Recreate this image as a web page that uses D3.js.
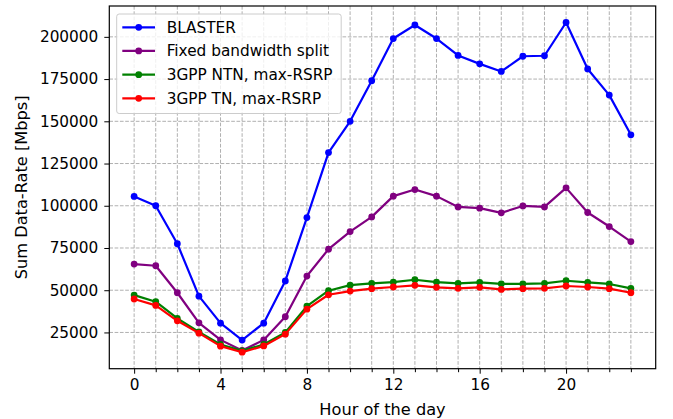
<!DOCTYPE html>
<html>
<head>
<meta charset="utf-8">
<script src="https://cdn.jsdelivr.net/npm/d3@7"></script>
<style>
	body { margin: 0; background: #fff; }
	text { font-family: "DejaVu Sans", sans-serif; fill: #000; }
</style>
</head>
<body>
<script>
// hours of the day
var hours = d3.range(0, 24);

var blaster = [105500, 100000, 77500, 46500, 30500, 20500, 30500, 55500, 93000, 131500, 150000, 174000,
				199000, 207000, 199000, 189000, 184000, 179500, 188500, 188800, 208500, 181000, 165500, 142000];
var fixedSplit = [65500, 64500, 48500, 30700, 20600, 14300, 20600, 34300, 58400, 74300, 84700, 93400,
				105700, 109600, 105700, 99300, 98600, 95800, 99900, 99300, 110600, 96000, 87700, 78800];
var ntnRsrp = [47100, 43200, 33300, 25300, 17900, 14100, 17900, 25000, 40600, 49700, 53000, 54100,
				54800, 56200, 54800, 54100, 54700, 53800, 53800, 54100, 55600, 54700, 53700, 51100];
var tnRsrp = [44800, 41000, 31900, 24600, 16900, 13300, 17000, 24000, 38800, 47300, 49500, 50900,
				51900, 52900, 51700, 51100, 51700, 50500, 50900, 51100, 52500, 51900, 50900, 48500];

var seriesNames = ["BLASTER", "Fixed bandwidth split", "3GPP NTN, max-RSRP", "3GPP TN, max-RSRP"];
var seriesColors = ["#0000ff", "#800080", "#008000", "#ff0000"];
var seriesValues = [blaster, fixedSplit, ntnRsrp, tnRsrp];

var xMajorTicks = [0, 4, 8, 12, 16, 20];
var yTicks = [25000, 50000, 75000, 100000, 125000, 150000, 175000, 200000];

var WIDTH = 673;
var HEIGHT = 419;
var plotL = 109.3, plotR = 655.7, plotT = 6, plotB = 368.7;
var FONT = 15.3;
var LABEL_FONT = 16.2;

var svg = d3.select("body")
			.append("svg")
			.attr("width", WIDTH)
			.attr("height", HEIGHT);

var allVals = d3.merge(seriesValues);
var yMin = d3.min(allVals), yMax = d3.max(allVals);
var yPad = (yMax - yMin) * 0.05;

var x = d3.scaleLinear().domain([-1.15, 24.15]).range([plotL, plotR]);
var y = d3.scaleLinear().domain([yMin - yPad, yMax + yPad]).range([plotB, plotT]);

// grid
var grid = svg.append("g");
grid.selectAll(".vg")
	.data(hours)
	.enter()
	.append("line")
	.attr("x1", function(d){ return x(d); })
	.attr("x2", function(d){ return x(d); })
	.attr("y1", plotT)
	.attr("y2", plotB)
	.attr("stroke", "#b0b0b0")
	.attr("stroke-width", 1)
	.attr("stroke-dasharray", "3.7,1.6");
grid.selectAll(".hg")
	.data(yTicks)
	.enter()
	.append("line")
	.attr("x1", plotL)
	.attr("x2", plotR)
	.attr("y1", function(d){ return y(d); })
	.attr("y2", function(d){ return y(d); })
	.attr("stroke", "#b0b0b0")
	.attr("stroke-width", 1)
	.attr("stroke-dasharray", "3.7,1.6");

// series
var line = d3.line()
	.x(function(d, i){ return x(hours[i]); })
	.y(function(d){ return y(d); });

for (var s = 0; s < seriesValues.length; s++){
	svg.append("path")
		.datum(seriesValues[s])
		.attr("fill", "none")
		.attr("stroke", seriesColors[s])
		.attr("stroke-width", 2.2)
		.attr("stroke-linejoin", "round")
		.attr("d", line);
	svg.append("g")
		.selectAll("circle")
		.data(seriesValues[s])
		.enter()
		.append("circle")
		.attr("cx", function(d, i){ return x(hours[i]); })
		.attr("cy", function(d){ return y(d); })
		.attr("r", 3.4)
		.attr("fill", seriesColors[s]);
}

// axes
svg.append("g")
	.attr("transform", "translate(0," + plotB + ")")
	.call(d3.axisBottom(x).tickValues(xMajorTicks).tickSize(5).tickPadding(5).tickFormat(d3.format("d")));
svg.append("g")
	.attr("transform", "translate(0," + plotB + ")")
	.call(d3.axisBottom(x).tickValues(hours.filter(function(h){ return h % 4 != 0; })).tickSize(3.5).tickFormat(""));
svg.append("g")
	.attr("transform", "translate(" + plotL + ",0)")
	.call(d3.axisLeft(y).tickValues(yTicks).tickSize(5).tickPadding(6).tickFormat(d3.format("d")));

svg.selectAll(".domain").remove();
svg.selectAll(".tick line").attr("stroke", "#000").attr("stroke-width", 1);
svg.selectAll(".tick text").attr("font-size", FONT).attr("font-family", "DejaVu Sans").attr("fill", "#000");

// frame
svg.append("rect")
	.attr("x", plotL)
	.attr("y", plotT)
	.attr("width", plotR - plotL)
	.attr("height", plotB - plotT)
	.attr("fill", "none")
	.attr("stroke", "#000")
	.attr("stroke-width", 1.2);

// labels
svg.append("text")
	.attr("x", (plotL + plotR) / 2)
	.attr("y", 415)
	.attr("text-anchor", "middle")
	.attr("font-size", LABEL_FONT)
	.text("Hour of the day");
svg.append("text")
	.attr("transform", "translate(27," + ((plotT + plotB) / 2) + ") rotate(-90)")
	.attr("text-anchor", "middle")
	.attr("font-size", LABEL_FONT)
	.text("Sum Data-Rate [Mbps]");

// legend
var legend = svg.append("g");
legend.append("rect")
	.attr("x", 116.7)
	.attr("y", 14)
	.attr("width", 224.5)
	.attr("height", 99.5)
	.attr("rx", 2.5)
	.attr("fill", "#fff")
	.attr("fill-opacity", 0.8)
	.attr("stroke", "#cccccc")
	.attr("stroke-width", 1);

var rows = legend.selectAll(".row")
	.data(seriesNames)
	.enter()
	.append("g")
	.attr("transform", function(d, i){ return "translate(0," + (27.3 + i * 23.67) + ")"; });
rows.append("line")
	.attr("x1", 122.3)
	.attr("x2", 155)
	.attr("stroke", function(d, i){ return seriesColors[i]; })
	.attr("stroke-width", 2.2);
rows.append("circle")
	.attr("cx", 138.7)
	.attr("r", 3.4)
	.attr("fill", function(d, i){ return seriesColors[i]; });
rows.append("text")
	.attr("x", 166.7)
	.attr("y", 5.4)
	.attr("font-size", FONT)
	.text(function(d){ return d; });
</script>
</body>
</html>
